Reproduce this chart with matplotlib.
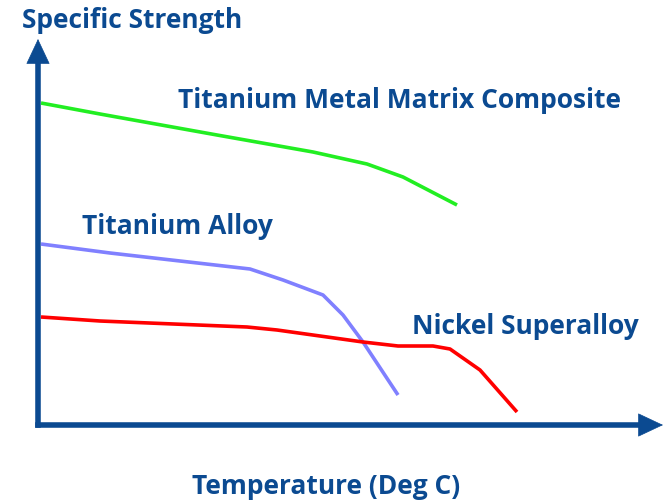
import matplotlib
matplotlib.use("Agg")
import matplotlib.pyplot as plt

# Data (arbitrary units: temperature vs specific strength)
tmmc_temp = [3, 62, 179, 275, 329, 365, 419]
tmmc_strength = [322, 311, 290, 273, 261, 248, 220]

ti_temp = [3, 72, 212, 245, 285, 305, 325, 360]
ti_strength = [181, 172, 156, 145, 130, 110, 83, 30]

ni_temp = [3, 62, 209, 239, 325, 360, 395, 412, 442, 479]
ni_strength = [108, 104, 98, 95, 83, 79, 79, 76, 55, 13]

blue = "#0B4A91"
font = "Open Sans"

fig = plt.figure(figsize=(6.66, 5.04), dpi=100)
ax = fig.add_axes([0, 0, 1, 1])
ax.set_xlim(-38, 628)
ax.set_ylim(-79, 425)
ax.axis("off")

# axes lines
ax.plot([0, 0], [0, 370], color=blue, lw=4, solid_capstyle="projecting")
ax.plot([0, 610], [0, 0], color=blue, lw=4, solid_capstyle="projecting")
# arrow heads
hs = dict(arrowstyle="-|>,head_length=0.85,head_width=0.4", lw=0.5, color=blue,
          mutation_scale=20, shrinkA=0, shrinkB=0)
ax.annotate("", xy=(0, 386), xytext=(0, 360), arrowprops=hs)
ax.annotate("", xy=(625, 0), xytext=(600, 0), arrowprops=hs)

ax.plot(tmmc_temp, tmmc_strength, color="#22EE22", lw=2.6, solid_capstyle="butt")
ax.plot(ti_temp, ti_strength, color="#8080FF", lw=2.6, solid_capstyle="butt")
ax.plot(ni_temp, ni_strength, color="#FF0000", lw=2.6, solid_capstyle="butt")

tkw = dict(color=blue, fontweight="bold", family=font, fontsize=19)
ax.text(-16, 405, "Specific Strength", ha="left", va="center", **tkw)
ax.text(140, 325, "Titanium Metal Matrix Composite", ha="left", va="center", **tkw)
ax.text(44, 199, "Titanium Alloy", ha="left", va="center", **tkw)
ax.text(374, 99, "Nickel Superalloy", ha="left", va="center", **tkw)
ax.text(288, -61, "Temperature (Deg C)", ha="center", va="center", **tkw)

fig.savefig("out.png", dpi=100)
